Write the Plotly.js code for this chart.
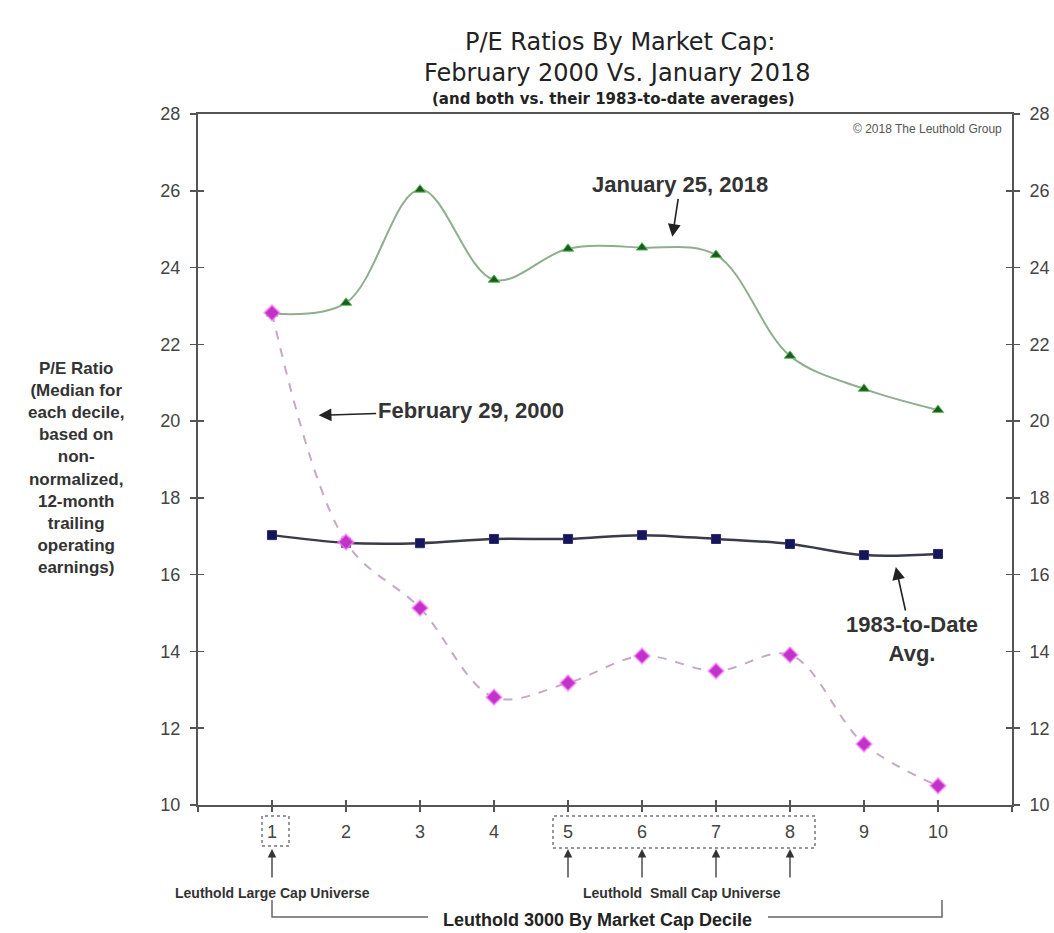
<!DOCTYPE html>
<html>
<head>
<meta charset="utf-8">
<script src="https://cdn.plot.ly/plotly-3.0.1.min.js"></script>
<style>html,body{margin:0;padding:0;background:#fff;}#chart{width:1054px;height:933px;}</style>
</head>
<body>
<div id="chart"></div>
<script>
// ---- data ----
const deciles = [1, 2, 3, 4, 5, 6, 7, 8, 9, 10];
const tickLabels = ['', '1', '2', '3', '4', '5', '6', '7', '8', '9', '10', ''];
const jan2018 = [22.8, 23.08, 26.03, 23.68, 24.49, 24.52, 24.33, 21.7, 20.84, 20.29];
const feb2000 = [22.82, 16.85, 15.13, 12.81, 13.18, 13.88, 13.49, 13.91, 11.59, 10.5];
const avg1983 = [17.03, 16.83, 16.82, 16.93, 16.93, 17.03, 16.93, 16.8, 16.51, 16.54];

// ---- geometry helpers (plot area in pixels) ----
const L = 198, R = 1012, T = 114, B = 805;
const py = p => (B - p) / (B - T);      // pixel y -> paper y
const px = p => (p - L) / (R - L);      // pixel x -> paper x

const sans = 'Liberation Sans, Arial, sans-serif';
const titleFont = 'DejaVu Sans, sans-serif';
const axisCol = '#555';

const traces = [
  {
    x: deciles, y: jan2018, type: 'scatter', mode: 'lines+markers', name: 'January 25, 2018',
    line: {color: '#8fae8f', width: 2, shape: 'spline', smoothing: 1},
    marker: {symbol: 'triangle-up', size: 10, color: '#1f5a22', line: {color: '#5cc25c', width: 1}}
  },
  {
    x: deciles, y: avg1983, type: 'scatter', mode: 'lines+markers', name: '1983-to-Date Avg.',
    line: {color: '#3a3a48', width: 2.5, shape: 'spline', smoothing: 1},
    marker: {symbol: 'square', size: 9, color: '#15155a', line: {color: '#2a2a70', width: 1}}
  },
  {
    x: deciles, y: feb2000, type: 'scatter', mode: 'lines+markers', name: 'February 29, 2000',
    line: {color: '#c4aac4', width: 2, dash: 'dash', shape: 'spline', smoothing: 1},
    marker: {symbol: 'diamond', size: 12, color: '#c332c8', line: {color: 'rgba(255,140,255,0.6)', width: 2}}
  },
  // invisible carriers so the twin axes (right labels, crossing ticks) are drawn
  {x: deciles, y: jan2018, type: 'scatter', mode: 'none', xaxis: 'x', yaxis: 'y2', hoverinfo: 'skip'},
  {x: deciles, y: jan2018, type: 'scatter', mode: 'none', xaxis: 'x', yaxis: 'y3', hoverinfo: 'skip'},
  {x: deciles, y: jan2018, type: 'scatter', mode: 'none', xaxis: 'x', yaxis: 'y4', hoverinfo: 'skip'},
  {x: deciles, y: jan2018, type: 'scatter', mode: 'none', xaxis: 'x2', yaxis: 'y', hoverinfo: 'skip'}
];

const xticks = {
  tickmode: 'array', tickvals: [0,1,2,3,4,5,6,7,8,9,10,11], ticktext: tickLabels,
  range: [0, 11], fixedrange: true, showgrid: false, zeroline: false
};
const ytick = {range: [10, 28], dtick: 2, tick0: 10, showgrid: false, zeroline: false, fixedrange: true};
const tickFont = {family: sans, size: 18, color: '#444'};

const shapes = [
  // dotted boxes around decile labels
  {type: 'rect', xref: 'paper', yref: 'paper', x0: px(262), x1: px(289), y0: py(846), y1: py(816),
   line: {color: '#777', width: 1.5, dash: 'dot'}},
  {type: 'rect', xref: 'paper', yref: 'paper', x0: px(553), x1: px(815), y0: py(848), y1: py(816),
   line: {color: '#777', width: 1.5, dash: 'dot'}},
  // bracket for Leuthold 3000
  {type: 'path', xref: 'paper', yref: 'paper',
   path: `M ${px(272)} ${py(900)} L ${px(272)} ${py(917)} L ${px(428)} ${py(917)}`,
   line: {color: '#666', width: 1.5}},
  {type: 'path', xref: 'paper', yref: 'paper',
   path: `M ${px(768)} ${py(917)} L ${px(942)} ${py(917)} L ${px(942)} ${py(900)}`,
   line: {color: '#666', width: 1.5}}
];

const annotations = [
  // titles
  {text: 'P/E Ratios By Market Cap:', xref: 'paper', yref: 'paper', x: px(620), y: py(42), showarrow: false,
   font: {family: titleFont, size: 24, color: '#222'}, xanchor: 'center', yanchor: 'middle'},
  {text: 'February 2000 Vs. January 2018', xref: 'paper', yref: 'paper', x: px(617), y: py(73), showarrow: false,
   font: {family: titleFont, size: 24, color: '#222'}, xanchor: 'center', yanchor: 'middle'},
  {text: '<b>(and both vs. their 1983-to-date averages)</b>', xref: 'paper', yref: 'paper', x: px(613), y: py(99), showarrow: false,
   font: {family: titleFont, size: 15, color: '#222'}, xanchor: 'center', yanchor: 'middle'},
  {text: '© 2018 The Leuthold Group', xref: 'paper', yref: 'paper', x: px(1004), y: py(129), showarrow: false,
   font: {family: sans, size: 12, color: '#555'}, xanchor: 'right', yanchor: 'middle'},
  // y axis title
  {text: '<b>P/E Ratio<br>(Median for<br>each decile,<br>based on<br>non-<br>normalized,<br>12-month<br>trailing<br>operating<br>earnings)</b>',
   xref: 'paper', yref: 'paper', x: px(76), y: py(468), showarrow: false, align: 'center',
   font: {family: sans, size: 17, color: '#333'}, xanchor: 'center', yanchor: 'middle'},
  // series callouts
  {text: '<b>January 25, 2018</b>', xref: 'x', yref: 'y', x: 6.41, y: 24.8, ax: 8, ay: -52,
   showarrow: true, arrowhead: 2, arrowsize: 1.6, arrowwidth: 1.6, arrowcolor: '#222', standoff: 0,
   font: {family: sans, size: 22, color: '#333'}},
  {text: '<b>February 29, 2000</b>', xref: 'x', yref: 'y', x: 1.63, y: 20.15, ax: 152, ay: -5,
   showarrow: true, arrowhead: 2, arrowsize: 1.6, arrowwidth: 1.6, arrowcolor: '#222', standoff: 0,
   font: {family: sans, size: 22, color: '#333'}},
  {text: '<b>1983-to-Date<br>Avg.</b>', xref: 'x', yref: 'y', x: 9.43, y: 16.2, ax: 16, ay: 72,
   showarrow: true, arrowhead: 2, arrowsize: 1.6, arrowwidth: 1.6, arrowcolor: '#222', standoff: 0,
   font: {family: sans, size: 22, color: '#333'}},
  // universe labels
  {text: '<b>Leuthold Large Cap Universe</b>', xref: 'paper', yref: 'paper', x: px(272), y: py(893), showarrow: false,
   font: {family: sans, size: 14, color: '#333'}, xanchor: 'center', yanchor: 'middle'},
  {text: '<b>Leuthold  Small Cap Universe</b>', xref: 'paper', yref: 'paper', x: px(682), y: py(893), showarrow: false,
   font: {family: sans, size: 14, color: '#333'}, xanchor: 'center', yanchor: 'middle'},
  {text: '<b>Leuthold 3000 By Market Cap Decile</b>', xref: 'paper', yref: 'paper', x: px(597), y: py(920), showarrow: false,
   font: {family: sans, size: 18, color: '#222'}, xanchor: 'center', yanchor: 'middle'}
];
// up arrows under deciles 1, 5, 6, 7, 8
[1, 5, 6, 7, 8].forEach(d => {
  annotations.push({text: '', xref: 'x', yref: 'paper', x: d, y: py(849), ax: 0, ay: 30,
    showarrow: true, arrowhead: 2, arrowsize: 1.3, arrowwidth: 1.3, arrowcolor: '#333', standoff: 0});
});

const layout = {
  width: 1054, height: 933, autosize: false,
  margin: {l: L, r: 1054 - R, t: T, b: 933 - B, pad: 0},
  paper_bgcolor: '#fff', plot_bgcolor: '#fff',
  showlegend: false,
  font: {family: sans, size: 15, color: '#444'},
  xaxis: Object.assign({}, xticks, {showline: true, linecolor: axisCol, linewidth: 2, mirror: true,
    ticks: 'outside', ticklen: 5, tickwidth: 1.5, tickcolor: axisCol, ticklabelstandoff: 4, tickfont: tickFont}),
  xaxis2: Object.assign({}, xticks, {overlaying: 'x', anchor: 'y', side: 'bottom', showline: false,
    ticks: 'inside', ticklen: 5, tickwidth: 1.5, tickcolor: axisCol, showticklabels: false}),
  yaxis: Object.assign({}, ytick, {showline: true, linecolor: axisCol, linewidth: 2,
    ticks: 'outside', ticklen: 6, tickwidth: 1.5, tickcolor: axisCol, ticklabelstandoff: 6, tickfont: tickFont}),
  yaxis2: Object.assign({}, ytick, {overlaying: 'y', side: 'right', anchor: 'x', showline: true, linecolor: axisCol, linewidth: 2,
    ticks: 'outside', ticklen: 6, tickwidth: 1.5, tickcolor: axisCol, ticklabelstandoff: 6, tickfont: tickFont}),
  yaxis3: Object.assign({}, ytick, {overlaying: 'y', side: 'left', anchor: 'x', showline: false,
    ticks: 'inside', ticklen: 6, tickwidth: 1.5, tickcolor: axisCol, showticklabels: false}),
  yaxis4: Object.assign({}, ytick, {overlaying: 'y', side: 'right', anchor: 'x', showline: false,
    ticks: 'inside', ticklen: 6, tickwidth: 1.5, tickcolor: axisCol, showticklabels: false}),
  shapes: shapes,
  annotations: annotations
};

Plotly.newPlot('chart', traces, layout, {displayModeBar: false, staticPlot: true});
</script>
</body>
</html>
